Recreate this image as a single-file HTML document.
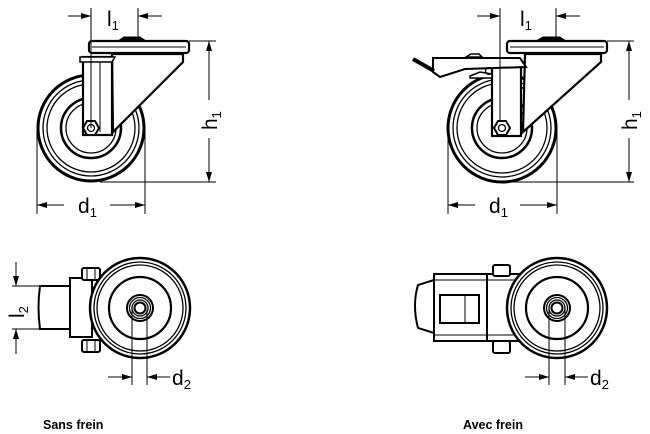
<!DOCTYPE html>
<html><head><meta charset="utf-8"><style>
html,body{margin:0;padding:0;background:#fff;width:650px;height:434px;overflow:hidden}
svg{display:block}
text{font-family:"Liberation Sans",sans-serif;fill:#000}
</style></head><body>
<svg width="650" height="434" viewBox="0 0 650 434" xmlns="http://www.w3.org/2000/svg">
<defs>
<marker id="a" viewBox="0 0 10 6" refX="10" refY="3" markerWidth="10" markerHeight="6" orient="auto" markerUnits="userSpaceOnUse"><path d="M0,0L10,3L0,6z" fill="#000"/></marker>
</defs>
<g fill="none" stroke="#000">
<!-- ===== TOP LEFT ===== -->
<g>
<circle cx="91" cy="128" r="53" stroke-width="3"/>
<circle cx="91" cy="128" r="48" stroke-width="1.3"/>
<circle cx="91" cy="128" r="44" stroke-width="1.3"/>
<circle cx="91" cy="128" r="30" stroke-width="2.5"/>
<circle cx="91" cy="128" r="25" stroke-width="1.3"/>
<path d="M112,54 L183,54 L183,62 L113,132 Z" fill="#fff" stroke-width="2.2"/>
<rect x="83" y="57" width="29" height="78" fill="#fff" stroke-width="2.2"/>
<line x1="100" y1="60" x2="100" y2="132" stroke-width="1"/>
<path d="M80,57 h35 l-3,5 h-32z" fill="#fff" stroke-width="1.5"/>
<rect x="89" y="41" width="100" height="12" rx="3" fill="#fff" stroke-width="2.2"/>
<line x1="92" y1="47" x2="186" y2="47" stroke-width="1"/>
<path d="M118,41 L124,37 H140 L146,41Z" fill="#000" stroke-width="1"/>
<path d="M83,128 l4,-7 h8 l4,7 l-4,7 h-8z" fill="#fff" stroke-width="2"/>
<circle cx="91" cy="128" r="3.5" stroke-width="1.3"/>
<!-- dims -->
<line x1="91" y1="8" x2="91" y2="128" stroke-width="1"/>
<line x1="138" y1="8" x2="138" y2="41" stroke-width="1"/>
<line x1="68" y1="16" x2="91" y2="16" stroke-width="1" marker-end="url(#a)"/>
<line x1="162" y1="16" x2="138" y2="16" stroke-width="1" marker-end="url(#a)"/>
<line x1="189" y1="41" x2="216" y2="41" stroke-width="1"/>
<line x1="100" y1="182" x2="216" y2="182" stroke-width="1"/>
<line x1="209" y1="100" x2="209" y2="41" stroke-width="1" marker-end="url(#a)"/>
<line x1="209" y1="138" x2="209" y2="182" stroke-width="1" marker-end="url(#a)"/>
<line x1="37" y1="128" x2="37" y2="214" stroke-width="1"/>
<line x1="145" y1="128" x2="145" y2="214" stroke-width="1"/>
<line x1="64" y1="205" x2="37" y2="205" stroke-width="1" marker-end="url(#a)"/>
<line x1="110" y1="205" x2="145" y2="205" stroke-width="1" marker-end="url(#a)"/>
</g>
<!-- ===== TOP RIGHT ===== -->
<g>
<circle cx="502" cy="128" r="54" stroke-width="3"/>
<circle cx="502" cy="128" r="49" stroke-width="1.3"/>
<circle cx="502" cy="128" r="45" stroke-width="1.3"/>
<circle cx="502" cy="128" r="30" stroke-width="2.5"/>
<circle cx="502" cy="128" r="25" stroke-width="1.3"/>
<path d="M525,54 L601,54 L601,62 L523,132 Z" fill="#fff" stroke-width="2.2"/>
<rect x="492" y="60" width="29" height="76" fill="#fff" stroke-width="2.2"/>
<path d="M433,58 L520,58 L526,67 L465,69 L440,77 L433,72 Z" fill="#fff" stroke-width="2"/>
<path d="M470,76 L480,72 L492,74 L492,78 L470,78Z" fill="#fff" stroke-width="1.5"/>
<line x1="413" y1="59" x2="434" y2="71" stroke-width="4"/>
<path d="M466,57 l5,-3 h8 l3,3z" fill="#fff" stroke-width="1.5"/>
<circle cx="489" cy="71" r="3.5" stroke-width="1.3"/>
<rect x="507" y="41" width="100" height="12" rx="3" fill="#fff" stroke-width="2.2"/>
<line x1="510" y1="47" x2="604" y2="47" stroke-width="1"/>
<path d="M536,41 L543,37 H560 L566,41Z" fill="#000" stroke-width="1"/>
<path d="M494,128 l4,-7 h8 l4,7 l-4,7 h-8z" fill="#fff" stroke-width="2"/>
<circle cx="502" cy="128" r="3.5" stroke-width="1.3"/>
<line x1="500" y1="8" x2="500" y2="122" stroke-width="1"/>
<line x1="556" y1="8" x2="556" y2="38" stroke-width="1"/>
<line x1="477" y1="16" x2="500" y2="16" stroke-width="1" marker-end="url(#a)"/>
<line x1="580" y1="16" x2="556" y2="16" stroke-width="1" marker-end="url(#a)"/>
<line x1="607" y1="41" x2="634" y2="41" stroke-width="1"/>
<line x1="510" y1="182" x2="634" y2="182" stroke-width="1"/>
<line x1="629" y1="100" x2="629" y2="41" stroke-width="1" marker-end="url(#a)"/>
<line x1="629" y1="138" x2="629" y2="182" stroke-width="1" marker-end="url(#a)"/>
<line x1="448" y1="128" x2="448" y2="214" stroke-width="1"/>
<line x1="557" y1="128" x2="557" y2="214" stroke-width="1"/>
<line x1="475" y1="205" x2="448" y2="205" stroke-width="1" marker-end="url(#a)"/>
<line x1="520" y1="205" x2="557" y2="205" stroke-width="1" marker-end="url(#a)"/>
</g>
<!-- ===== BOTTOM LEFT ===== -->
<g>
<path d="M40,286 H82 V329 H40 Q37,307 40,286Z" stroke-width="2" fill="#fff"/>
<rect x="70" y="278" width="22" height="59" fill="#fff" stroke-width="2"/>
<rect x="82" y="268" width="18" height="12" rx="2" fill="#fff" stroke-width="2"/>
<rect x="82" y="340" width="18" height="12" rx="2" fill="#fff" stroke-width="2"/>
<line x1="87" y1="268" x2="87" y2="280" stroke-width="1"/><line x1="95" y1="268" x2="95" y2="280" stroke-width="1"/>
<line x1="87" y1="340" x2="87" y2="352" stroke-width="1"/><line x1="95" y1="340" x2="95" y2="352" stroke-width="1"/>
<circle cx="140" cy="308" r="50" fill="#fff" stroke-width="2.5"/>
<circle cx="140" cy="308" r="46" stroke-width="1.3"/>
<circle cx="140" cy="308" r="43" stroke-width="1.3"/>
<circle cx="140" cy="308" r="31" stroke-width="2.2"/>
<circle cx="140" cy="308" r="13" stroke-width="2"/>
<circle cx="140" cy="308" r="10.5" stroke-width="1.3"/>
<circle cx="140" cy="308" r="8" stroke-width="1.3"/>
<circle cx="140" cy="308" r="5.5" stroke-width="2"/>
<line x1="132" y1="310" x2="132" y2="385" stroke-width="1"/>
<line x1="147" y1="310" x2="147" y2="385" stroke-width="1"/>
<line x1="108" y1="377" x2="132" y2="377" stroke-width="1" marker-end="url(#a)"/>
<line x1="170" y1="377" x2="147" y2="377" stroke-width="1" marker-end="url(#a)"/>
<line x1="12" y1="286" x2="40" y2="286" stroke-width="1"/>
<line x1="12" y1="329" x2="40" y2="329" stroke-width="1"/>
<line x1="16" y1="262" x2="16" y2="286" stroke-width="1" marker-end="url(#a)"/>
<line x1="16" y1="354" x2="16" y2="329" stroke-width="1" marker-end="url(#a)"/>
</g>
<!-- ===== BOTTOM RIGHT ===== -->
<g>
<path d="M434,280 L418,285 Q412,305 418,328 L434,333Z" fill="#fff" stroke-width="2"/>
<rect x="434" y="274" width="86" height="67" fill="#fff" stroke-width="2"/>
<line x1="434" y1="280" x2="520" y2="280" stroke-width="1"/>
<line x1="434" y1="335" x2="520" y2="335" stroke-width="1"/>
<line x1="487" y1="274" x2="487" y2="341" stroke-width="2"/>
<rect x="440" y="295" width="39" height="28" stroke-width="2"/>
<line x1="465" y1="295" x2="465" y2="323" stroke-width="1"/>
<rect x="493" y="265" width="17" height="11" rx="2" fill="#fff" stroke-width="2"/>
<rect x="493" y="341" width="17" height="12" rx="2" fill="#fff" stroke-width="2"/>
<circle cx="557" cy="308" r="50" fill="#fff" stroke-width="2.5"/>
<circle cx="557" cy="308" r="46" stroke-width="1.3"/>
<circle cx="557" cy="308" r="43" stroke-width="1.3"/>
<circle cx="557" cy="308" r="31" stroke-width="2.2"/>
<circle cx="557" cy="308" r="13" stroke-width="2"/>
<circle cx="557" cy="308" r="10.5" stroke-width="1.3"/>
<circle cx="557" cy="308" r="8" stroke-width="1.3"/>
<circle cx="557" cy="308" r="5.5" stroke-width="2"/>
<line x1="549" y1="310" x2="549" y2="385" stroke-width="1"/>
<line x1="565" y1="310" x2="565" y2="385" stroke-width="1"/>
<line x1="525" y1="377" x2="549" y2="377" stroke-width="1" marker-end="url(#a)"/>
<line x1="588" y1="377" x2="565" y2="377" stroke-width="1" marker-end="url(#a)"/>
</g>
</g>
<!-- labels -->
<text x="107" y="26" font-size="21">l<tspan font-size="13" dy="4">1</tspan></text>
<text x="520" y="26" font-size="21">l<tspan font-size="13" dy="4">1</tspan></text>
<text x="78" y="213" font-size="21">d<tspan font-size="13" dy="4">1</tspan></text>
<text x="489" y="213" font-size="21">d<tspan font-size="13" dy="4">1</tspan></text>
<text transform="translate(217,130) rotate(-90)" font-size="21">h<tspan font-size="13" dy="4">1</tspan></text>
<text transform="translate(637,130) rotate(-90)" font-size="21">h<tspan font-size="13" dy="4">1</tspan></text>
<text transform="translate(24,318) rotate(-90)" font-size="21">l<tspan font-size="13" dy="4">2</tspan></text>
<text x="172" y="385" font-size="21">d<tspan font-size="13" dy="4">2</tspan></text>
<text x="590" y="385" font-size="21">d<tspan font-size="13" dy="4">2</tspan></text>
<text x="43" y="429" font-size="12.5" font-weight="bold">Sans frein</text>
<text x="463" y="429" font-size="12.5" font-weight="bold">Avec frein</text>
</svg>
</body></html>
